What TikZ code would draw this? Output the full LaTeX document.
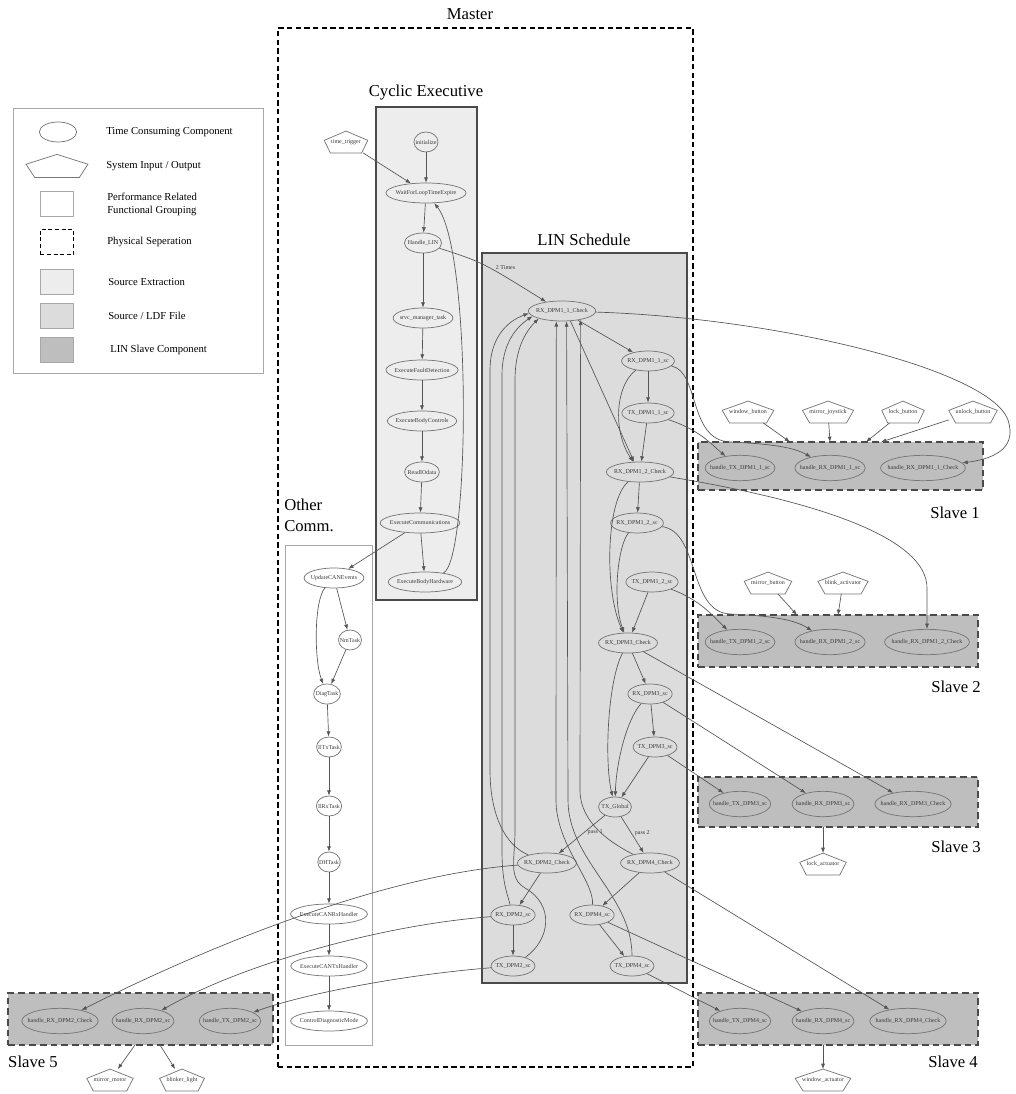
\documentclass[tikz,border=0pt]{standalone}
\usepackage{fontspec}
\setmainfont{Liberation Serif}
\usetikzlibrary{arrows.meta,positioning,fit,shapes.geometric,calc}
\definecolor{ink}{HTML}{3A3A3A}
\definecolor{nodeline}{HTML}{767676}
\definecolor{edgegray}{HTML}{555555}
\definecolor{frame}{HTML}{4A4A4A}
\definecolor{lightframe}{HTML}{A8A8A8}
\definecolor{srcext}{HTML}{EDEDED}
\definecolor{ldffill}{HTML}{DCDCDC}
\definecolor{slavefill}{HTML}{BEBEBE}
\newcommand{\tinyfont}{\fontsize{4.5}{5}\selectfont}
\newcommand{\legfont}{\fontsize{8}{9.6}\selectfont}
\newcommand{\bigfont}{\fontsize{12.5}{15.5}\selectfont}

\begin{document}
\begin{tikzpicture}[
  x=0.75pt,y=-0.75pt,
  comp/.style={ellipse,draw=nodeline,line width=0.55pt,inner xsep=-1.5pt,inner ysep=0pt,minimum height=15pt,font=\tinyfont,text=ink},
  handle/.style={comp,inner xsep=-4pt,minimum height=19pt},
  io/.style={font=\tinyfont,text=ink,inner xsep=5pt,inner ysep=0pt,minimum height=16pt,
    append after command={\pgfextra{\let\ionode\tikzlastnode
      \draw[nodeline,line width=0.55pt]
      ($(\ionode.south west)!0.14!(\ionode.south east)$) -- ($(\ionode.south west)!0.86!(\ionode.south east)$)
      -- ($(\ionode.east)!0.15!(\ionode.north east)$) -- (\ionode.north)
      -- ($(\ionode.west)!0.15!(\ionode.north west)$) -- cycle;}}},
  conn/.style={draw=edgegray,line width=0.5pt,-{Latex[length=4pt,width=3pt]}},
  grp/.style={draw=frame,line width=1.5pt,inner sep=0pt},
  slavebox/.style={draw=frame,line width=1.6pt,dash pattern=on 5pt off 3pt,fill=slavefill,inner sep=0pt},
  master/.style={draw=black,line width=0.9pt,dash pattern=on 4pt off 2.5pt,inner sep=0pt},
  ttl/.style={font=\bigfont,inner sep=0pt},
  lbl/.style={font=\tinyfont,text=ink,inner sep=0.5pt},
  leg/.style={font=\legfont,anchor=west,align=left,inner sep=0pt},
  swatch/.style={draw=lightframe,line width=0.5pt,minimum width=25pt,minimum height=19pt}
]
\useasboundingbox (0,0) rectangle (1015,1094);

% frames
\node[master,fit={(278,28) (693,1067)}] (masterbox) {};
\node[ttl] (masterlbl) at (470,14) {Master};
\node[draw=lightframe,line width=0.6pt,inner sep=0pt,fit={(13,108) (263,373)}] (legbox) {};
\node[grp,fill=srcext,fit={(376,107) (477,600)}] (cyclic) {};
\node[ttl] (cycliclbl) at (426,93) {Cyclic Executive};
\node[grp,fill=ldffill,fit={(482,253) (687,983)}] (linsched) {};
\node[ttl] (linlbl) at (584,240) {LIN Schedule};
\node[draw=lightframe,line width=0.6pt,inner sep=0pt,fit={(285,545) (372,1045)}] (othercomm) {};
\node[ttl,align=left,anchor=north west] (otherlbl) at (284,499) {Other\\Comm.};
\node[slavebox,fit={(698,442) (983,490)}] (slaveA) {};
\node[slavebox,fit={(698,615) (978,667)}] (slaveB) {};
\node[slavebox,fit={(698,777) (978,827)}] (slaveC) {};
\node[slavebox,fit={(698,993) (978,1045)}] (slaveD) {};
\node[slavebox,fit={(8,993) (273,1045)}] (slaveE) {};
\node[ttl] (slaveAlbl) at (955,513) {Slave 1};
\node[ttl] (slaveBlbl) at (956,687) {Slave 2};
\node[ttl] (slaveClbl) at (956,847) {Slave 3};
\node[ttl] (slaveDlbl) at (953,1062) {Slave 4};
\node[ttl] (slaveElbl) at (33,1062) {Slave 5};

% legend
\node[comp,minimum width=28pt,minimum height=15pt] (legEll) at (58,132) {};
\node[io,minimum width=46pt,minimum height=17pt] (legIo) at (57,166) {};
\node[swatch] (legGrp) at (57,204) {};
\node[swatch,draw=black,line width=0.9pt,dash pattern=on 3pt off 2pt] (legPhys) at (57,242) {};
\node[swatch,fill=srcext] (legSrc) at (57,282) {};
\node[swatch,fill=ldffill] (legLdf) at (57,316) {};
\node[swatch,fill=slavefill] (legSlave) at (57,350) {};
\node[leg] (legT1) at (106,132) {Time Consuming Component};
\node[leg] (legT2) at (106,166) {System Input / Output};
\node[leg] (legT3) at (107,204) {Performance Related\\Functional Grouping};
\node[leg] (legT4) at (107,242) {Physical Seperation};
\node[leg] (legT5) at (108,282) {Source Extraction};
\node[leg] (legT6) at (108,316) {Source / LDF File};
\node[leg] (legT7) at (110,350) {LIN Slave Component};

% cyclic executive
\node[io] (trig) at (346,142) {time\_trigger};
\node[comp] (init) at (426,142) {initialize};
\node[comp] (waitloop) at (426,193) {WaitForLoopTimeExpire};
\node[comp] (hlin) at (423,243) {Handle\_LIN};
\node[comp] (srvc) at (423,318) {srvc\_manager\_task};
\node[comp] (faultdet) at (422,370) {ExecuteFaultDetection};
\node[comp] (bodyctl) at (422,421) {ExecuteBodyControls};
\node[comp] (readio) at (422,472) {ReadIOdata};
\node[comp] (execcomm) at (420,523) {ExecuteCommunications};
\node[comp] (bodyhw) at (425,582) {ExecuteBodyHardware};

% other communication
\node[comp] (canev) at (334,578) {UpdateCANEvents};
\node[comp] (nmtask) at (350,640) {NmTask};
\node[comp] (diagtask) at (327,694) {DiagTask};
\node[comp] (itx) at (329,747) {IlTxTask};
\node[comp] (irx) at (329,806) {IlRxTask};
\node[comp] (dht) at (329,862) {DHTask};
\node[comp] (canrx) at (329,914) {ExecuteCANRxHandler};
\node[comp] (cantx) at (329,966) {ExecuteCANTxHandler};
\node[comp] (ctrldiag) at (329,1021) {ControlDiagnosticMode};

% LIN schedule
\node[comp] (chk11) at (562,311) {RX\_DPM1\_1\_Check};
\node[comp] (sc11) at (648,361) {RX\_DPM1\_1\_sc};
\node[comp] (tx11) at (648,413) {TX\_DPM1\_1\_sc};
\node[comp] (chk12) at (640,472) {RX\_DPM1\_2\_Check};
\node[comp] (sc12) at (637,523) {RX\_DPM1\_2\_sc};
\node[comp] (tx12) at (652,582) {TX\_DPM1\_2\_sc};
\node[comp] (chk3) at (628,643) {RX\_DPM3\_Check};
\node[comp] (sc3) at (650,694) {RX\_DPM3\_sc};
\node[comp] (tx3) at (655,747) {TX\_DPM3\_sc};
\node[comp] (txg) at (615,807) {TX\_Global};
\node[comp] (chk2) at (547,863) {RX\_DPM2\_Check};
\node[comp] (chk4) at (650,863) {RX\_DPM4\_Check};
\node[comp] (sc2) at (513,915) {RX\_DPM2\_sc};
\node[comp] (sc4) at (592,915) {RX\_DPM4\_sc};
\node[comp] (tx2) at (513,966) {TX\_DPM2\_sc};
\node[comp] (tx4) at (632,966) {TX\_DPM4\_sc};

% slaves
\node[handle] (hTx11) at (740,468) {handle\_TX\_DPM1\_1\_sc};
\node[handle] (hRx11) at (830,468) {handle\_RX\_DPM1\_1\_sc};
\node[handle] (hChk11) at (923,468) {handle\_RX\_DPM1\_1\_Check};
\node[handle] (hTx12) at (740,642) {handle\_TX\_DPM1\_2\_sc};
\node[handle] (hRx12) at (830,642) {handle\_RX\_DPM1\_2\_sc};
\node[handle] (hChk12) at (927,642) {handle\_RX\_DPM1\_2\_Check};
\node[handle] (hTx3) at (740,804) {handle\_TX\_DPM3\_sc};
\node[handle] (hRx3) at (823,804) {handle\_RX\_DPM3\_sc};
\node[handle] (hChk3) at (913,804) {handle\_RX\_DPM3\_Check};
\node[handle] (hTx4) at (740,1021) {handle\_TX\_DPM4\_sc};
\node[handle] (hRx4) at (823,1021) {handle\_RX\_DPM4\_sc};
\node[handle] (hChk4) at (908,1021) {handle\_RX\_DPM4\_Check};
\node[handle] (hChk2) at (60,1021) {handle\_RX\_DPM2\_Check};
\node[handle] (hRx2) at (143,1021) {handle\_RX\_DPM2\_sc};
\node[handle] (hTx2) at (230,1021) {handle\_TX\_DPM2\_sc};

% inputs / outputs
\node[io] (winbtn) at (748,412) {window\_button};
\node[io] (mirjoy) at (828,412) {mirror\_joystick};
\node[io] (lockbtn) at (903,412) {lock\_button};
\node[io] (unlockbtn) at (973,412) {unlock\_button};
\node[io] (mirbtn) at (768,583) {mirror\_button};
\node[io] (blinkact) at (843,583) {blink\_activator};
\node[io] (lockact) at (823,864) {lock\_actuator};
\node[io] (winact) at (823,1080) {window\_actuator};
\node[io] (mirmot) at (110,1080) {mirror\_motor};
\node[io] (blinklt) at (182,1080) {blinker\_light};
\coordinate (inA1) at (790,442);
\coordinate (inA2) at (830,442);
\coordinate (inA3) at (866,442);
\coordinate (inA4) at (881,442);
\coordinate (inB1) at (797,615);
\coordinate (inB2) at (838,615);
\coordinate (outC) at (823,827);
\coordinate (outD) at (823,1045);
\coordinate (outE1) at (135,1045);
\coordinate (outE2) at (160,1045);

% cyclic edges
\draw[conn] (trig) -- (waitloop);
\draw[conn] (init) -- (waitloop);
\draw[conn] (waitloop) -- (hlin);
\draw[conn] (hlin) -- (srvc);
\draw[conn] (srvc) -- (faultdet);
\draw[conn] (faultdet) -- (bodyctl);
\draw[conn] (bodyctl) -- (readio);
\draw[conn] (readio) -- (execcomm);
\draw[conn] (execcomm) -- (bodyhw);
\draw[conn] (bodyhw) .. controls (470,560) and (472,250) .. (waitloop);
\draw[conn] (execcomm) -- (canev);
\draw[conn] (hlin) .. controls (482,262) .. (chk11.150) node[lbl,pos=0.62,anchor=south west] (twotimes) {2 Times};

% other comm edges
\draw[conn] (canev) -- (nmtask);
\draw[conn] (canev) .. controls (314,600) and (314,660) .. (diagtask);
\draw[conn] (nmtask) -- (diagtask);
\draw[conn] (diagtask) -- (itx);
\draw[conn] (itx) -- (irx);
\draw[conn] (irx) -- (dht);
\draw[conn] (dht) -- (canrx);
\draw[conn] (canrx) -- (cantx);
\draw[conn] (cantx) -- (ctrldiag);

% LIN schedule edges
\draw[conn] (chk11) -- (sc11);
\draw[conn] (chk11.310) -- (chk12.120);
\draw[conn] (sc11) -- (tx11);
\draw[conn] (sc11) .. controls (616,385) and (612,430) .. (chk12);
\draw[conn] (tx11) -- (chk12);
\draw[conn] (chk12) -- (sc12);
\draw[conn] (chk12) .. controls (606,500) and (604,590) .. (chk3);
\draw[conn] (sc12) .. controls (618,545) and (612,600) .. (chk3);
\draw[conn] (tx12) -- (chk3);
\draw[conn] (chk3) -- (sc3);
\draw[conn] (sc3) -- (tx3);
\draw[conn] (chk3) .. controls (608,680) and (604,760) .. (txg);
\draw[conn] (sc3) .. controls (626,720) and (616,765) .. (txg);
\draw[conn] (tx3) -- (txg);
\draw[conn] (txg) -- (chk2) node[lbl,pos=0.45,right=2pt] (passone) {pass 1};
\draw[conn] (txg) -- (chk4) node[lbl,pos=0.45,right=2pt] (passtwo) {pass 2};
\draw[conn] (chk2) -- (sc2);
\draw[conn] (sc2) -- (tx2);
\draw[conn] (chk4) -- (sc4);
\draw[conn] (sc4) -- (tx4);

% back to the first frame
\draw[conn] (chk2) .. controls (505,845) and (490,815) .. (490,770) -- (490,370) .. controls (490,340) and (505,322) .. (chk11.184);
\draw[conn] (sc2) .. controls (506,890) and (502,880) .. (502,850) -- (502,375) .. controls (502,345) and (515,328) .. (chk11.190);
\draw[conn] (tx2) .. controls (550,940) and (555,905) .. (525,888) .. controls (508,878) and (515,860) .. (515,830) -- (515,380) .. controls (515,350) and (525,332) .. (chk11.198);
\draw[conn] (chk4) .. controls (615,845) and (580,825) .. (580,790) -- (chk11.335);
\draw[conn] (sc4) .. controls (594,880) and (556,845) .. (556,800) -- (chk11.241);
\draw[conn] (tx4) .. controls (632,895) and (568,860) .. (568,800) -- (chk11.294);

% to the slaves
\draw[conn] (chk11) .. controls (780,318) and (990,370) .. (1008,420) .. controls (1016,445) and (1000,458) .. (hChk11);
\draw[conn] (sc11) .. controls (700,372) and (688,440) .. (730,442) .. controls (775,444) and (795,448) .. (hRx11);
\draw[conn] (tx11) .. controls (700,430) and (712,445) .. (hTx11);
\draw[conn] (chk12) .. controls (780,495) and (930,530) .. (927,590) -- (hChk12);
\draw[conn] (sc12) .. controls (700,532) and (688,612) .. (730,614) .. controls (775,616) and (795,620) .. (hRx12);
\draw[conn] (tx12) .. controls (700,600) and (712,615) .. (hTx12);
\draw[conn] (chk3) -- (hChk3);
\draw[conn] (sc3) -- (hRx3);
\draw[conn] (tx3) -- (hTx3);
\draw[conn] (chk4) -- (hChk4);
\draw[conn] (sc4) -- (hRx4);
\draw[conn] (tx4) -- (hTx4);
\draw[conn] (chk2) .. controls (380,875) and (200,950) .. (hChk2);
\draw[conn] (sc2) .. controls (380,925) and (240,965) .. (hRx2);
\draw[conn] (tx2) .. controls (400,975) and (300,995) .. (hTx2);

% slave inputs / outputs
\draw[conn] (winbtn) -- (inA1);
\draw[conn] (mirjoy) -- (inA2);
\draw[conn] (lockbtn) -- (inA3);
\draw[conn] (unlockbtn) -- (inA4);
\draw[conn] (mirbtn) -- (inB1);
\draw[conn] (blinkact) -- (inB2);
\draw[conn] (outC) -- (lockact);
\draw[conn] (outD) -- (winact);
\draw[conn] (outE1) -- (mirmot);
\draw[conn] (outE2) -- (blinklt);
\end{tikzpicture}
\end{document}
